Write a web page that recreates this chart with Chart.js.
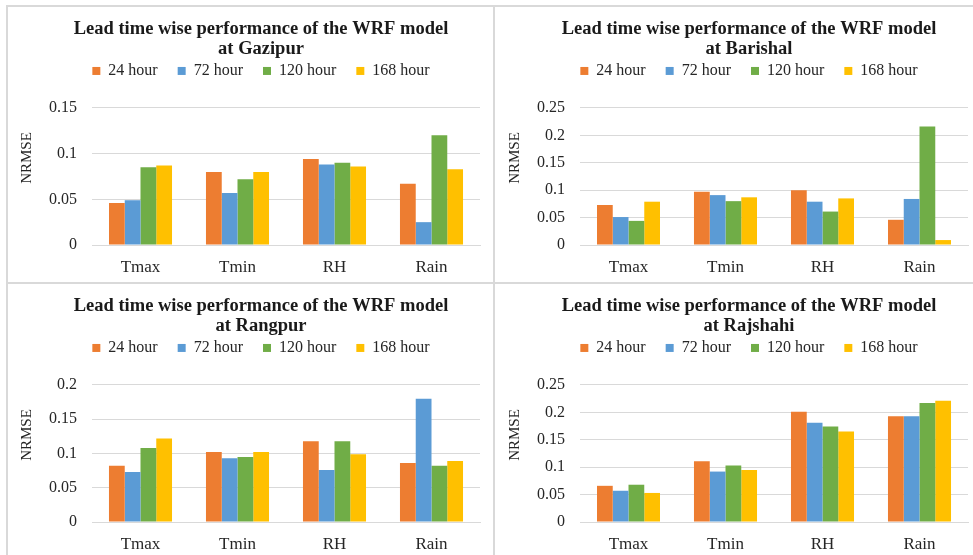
<!DOCTYPE html>
<html>
<head>
<meta charset="utf-8">
<script src="https://cdn.jsdelivr.net/npm/chart.js@4.4.1/dist/chart.umd.min.js"></script>
<style>
  html, body { margin: 0; padding: 0; background: #fff; }
  body { position: relative; width: 973px; height: 555px; overflow: hidden; }
  .panel { position: absolute; width: 486px; height: 276px; }
  .rule { position: absolute; background: #d9d9d9; }
</style>
</head>
<body>
<div class="panel" style="left:8px;top:7px"><canvas id="gazipur" width="486" height="276"></canvas></div>
<div class="panel" style="left:496px;top:7px"><canvas id="barishal" width="486" height="276"></canvas></div>
<div class="panel" style="left:8px;top:284px"><canvas id="rangpur" width="486" height="276"></canvas></div>
<div class="panel" style="left:496px;top:284px"><canvas id="rajshahi" width="486" height="276"></canvas></div>

<div class="rule" style="left:6px;top:5px;width:967px;height:2px"></div>
<div class="rule" style="left:6px;top:5px;width:2px;height:550px"></div>
<div class="rule" style="left:493px;top:5px;width:2px;height:550px"></div>
<div class="rule" style="left:6px;top:282px;width:967px;height:2px"></div>

<script>
// categories and series
const variables  = ['Tmax', 'Tmin', 'RH', 'Rain'];
const leadTimes  = ['24 hour', '72 hour', '120 hour', '168 hour'];
const leadColors = ['#ED7D31', '#5B9BD5', '#70AD47', '#FFC000'];

// NRMSE per lead time (rows) and variable (columns)
const gazipurValues = [
  [0.046, 0.080, 0.094, 0.067],
  [0.049, 0.057, 0.088, 0.025],
  [0.085, 0.072, 0.090, 0.120],
  [0.087, 0.080, 0.086, 0.083]
];
const barishalValues = [
  [0.073, 0.097, 0.100, 0.046],
  [0.051, 0.091, 0.079, 0.084],
  [0.044, 0.080, 0.061, 0.216],
  [0.079, 0.087, 0.085, 0.009]
];
const rangpurValues = [
  [0.082, 0.102, 0.118, 0.086],
  [0.073, 0.093, 0.076, 0.180],
  [0.108, 0.095, 0.118, 0.082],
  [0.122, 0.102, 0.099, 0.089]
];
const rajshahiValues = [
  [0.066, 0.111, 0.201, 0.193],
  [0.057, 0.092, 0.181, 0.193],
  [0.068, 0.103, 0.174, 0.217],
  [0.053, 0.095, 0.165, 0.221]
];

// y axis ranges
const gazipurMax  = 0.15;
const barishalMax = 0.25;
const rangpurMax  = 0.2;
const rajshahiMax = 0.25;
const yStep = 0.05;

const SERIF = '"Liberation Serif", "DejaVu Serif", serif';
const TEXT  = '#262626';
const GRID  = '#d9d9d9';

// extra room between legend and plot
const legendSpacer = {
  id: 'legendSpacer',
  beforeInit(chart) {
    const fit = chart.legend.fit;
    chart.legend.fit = function () {
      fit.call(this);
      this.height += 19;
    };
  }
};

// rotated y axis title, drawn left of the tick labels
const axisTitle = {
  id: 'axisTitle',
  afterDraw(chart, args, opts) {
    const ctx = chart.ctx;
    ctx.save();
    ctx.translate(opts.x, opts.y);
    ctx.rotate(-Math.PI / 2);
    ctx.font = '15px ' + SERIF;
    ctx.fillStyle = TEXT;
    ctx.textAlign = 'center';
    ctx.textBaseline = 'middle';
    ctx.fillText(opts.text, 0, 0);
    ctx.restore();
  }
};

function renderStation(canvasId, station, values, yMax) {
  new Chart(document.getElementById(canvasId), {
    type: 'bar',
    data: {
      labels: variables,
      datasets: leadTimes.map((lt, i) => ({
        label: lt,
        data: values[i],
        backgroundColor: leadColors[i],
        categoryPercentage: 0.65,
        barPercentage: 1
      }))
    },
    options: {
      responsive: false,
      animation: false,
      layout: { padding: { left: 34, right: 14, top: 0, bottom: 0 } },
      plugins: {
        title: {
          display: true,
          text: ['Lead time wise performance of the WRF model', 'at ' + station],
          color: '#1a1a1a',
          font: { family: SERIF, size: 18.5, weight: 'bold', lineHeight: 1.08 },
          padding: { top: 12, bottom: -16 }
        },
        legend: {
          labels: { boxWidth: 8, boxHeight: 8, padding: 20, color: TEXT, font: { family: SERIF, size: 16 } }
        },
        tooltip: { enabled: false },
        axisTitle: { text: 'NRMSE', x: 19, y: 151 }
      },
      scales: {
        x: {
          grid: { display: false },
          border: { color: GRID, width: 1 },
          ticks: { color: TEXT, font: { family: SERIF, size: 17 }, padding: 4 },
          afterFit: s => { s.height = 38; }
        },
        y: {
          min: 0,
          max: yMax,
          grid: { color: GRID, drawTicks: false },
          border: { display: false },
          ticks: {
            stepSize: yStep,
            padding: 15,
            color: TEXT,
            font: { family: SERIF, size: 16 },
            callback: v => String(+v.toFixed(2))
          },
          afterFit: s => { s.width = 50; }
        }
      }
    },
    plugins: [legendSpacer, axisTitle]
  });
}

renderStation('gazipur',  'Gazipur',  gazipurValues,  gazipurMax);
renderStation('barishal', 'Barishal', barishalValues, barishalMax);
renderStation('rangpur',  'Rangpur',  rangpurValues,  rangpurMax);
renderStation('rajshahi', 'Rajshahi', rajshahiValues, rajshahiMax);
</script>
</body>
</html>
